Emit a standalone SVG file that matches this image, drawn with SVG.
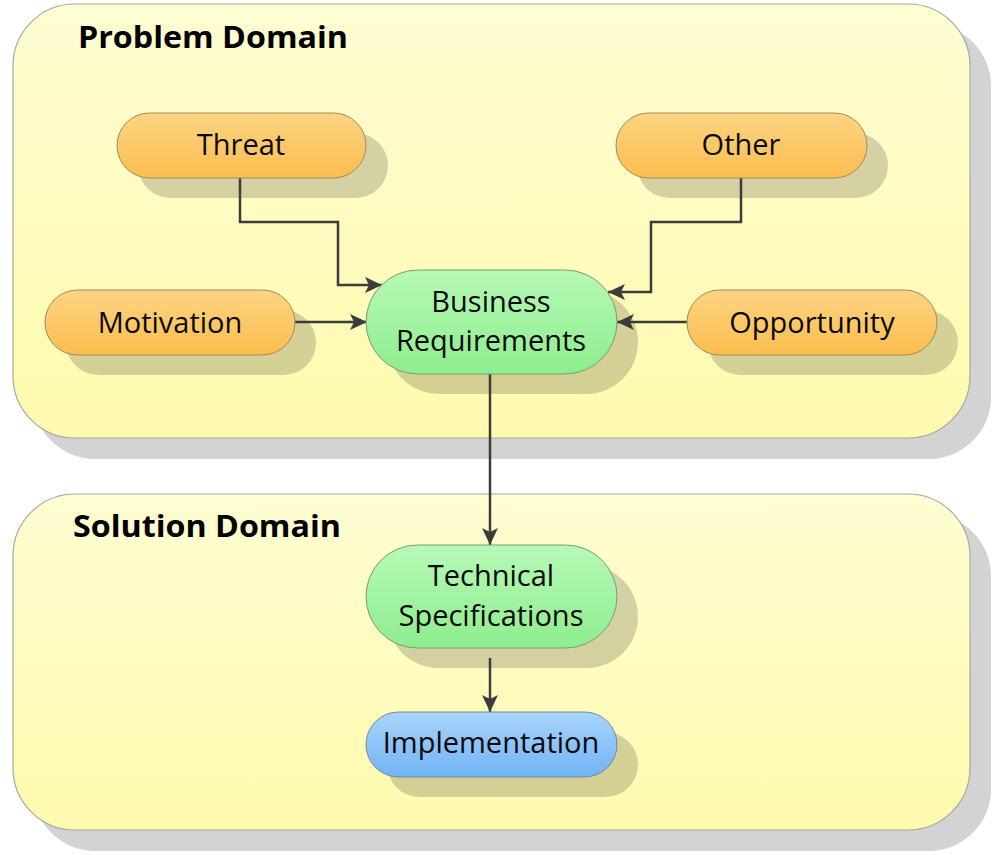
<svg xmlns="http://www.w3.org/2000/svg" width="1003" height="855" viewBox="0 0 1003 855">
<defs>
<linearGradient id="gCont" x1="0" y1="0" x2="0" y2="1"><stop offset="0" stop-color="#fffdd2"/><stop offset="1" stop-color="#fffaae"/></linearGradient>
<linearGradient id="gOr" x1="0" y1="0" x2="0" y2="1"><stop offset="0" stop-color="#fdd483"/><stop offset="1" stop-color="#fbbd4e"/></linearGradient>
<linearGradient id="gGr" x1="0" y1="0" x2="0" y2="1"><stop offset="0" stop-color="#b6f9b6"/><stop offset="1" stop-color="#8eed8e"/></linearGradient>
<linearGradient id="gBl" x1="0" y1="0" x2="0" y2="1"><stop offset="0" stop-color="#a9d4fb"/><stop offset="1" stop-color="#72b3f5"/></linearGradient>
<marker id="arr" markerUnits="userSpaceOnUse" markerWidth="18" markerHeight="16" refX="17" refY="8" orient="auto"><path d="M0,0 L17,8 L0,16 L4,8 Z" fill="#3c3c3c"/></marker>
</defs>
<style>
.cshadow{fill:#d3d3d3}
.cont{fill:url(#gCont);stroke:#a8a8a0;stroke-width:1.2}
.nshadow{fill:#000;fill-opacity:0.17}
.or{fill:url(#gOr);stroke:#a08a5a;stroke-width:1}
.gr{fill:url(#gGr);stroke:#7a9a7a;stroke-width:1}
.bl{fill:url(#gBl);stroke:#6a8aa8;stroke-width:1}
.title{font-family:"Open Sans","Liberation Sans",sans-serif;font-weight:bold;font-size:31px;fill:#000}
.lbl{font-family:"Open Sans","Liberation Sans",sans-serif;font-size:29px;fill:#0a0a0a;text-anchor:middle}
.conn{fill:none;stroke:#3c3c3c;stroke-width:2.5;marker-end:url(#arr)}
</style>
<rect width="1003" height="855" fill="#fff"/>
<g id="problem-domain">
<rect class="cshadow" x="33" y="24" width="958" height="435" rx="62"/>
<rect class="cont" x="13" y="4" width="957" height="434" rx="62"/>
<text class="title" x="78" y="48" textLength="270" lengthAdjust="spacingAndGlyphs">Problem Domain</text>
</g>
<g id="solution-domain">
<rect class="cshadow" x="33" y="514" width="958" height="337" rx="62"/>
<rect class="cont" x="13" y="494" width="957" height="336" rx="62"/>
<text class="title" x="73" y="537" textLength="268" lengthAdjust="spacingAndGlyphs">Solution Domain</text>
</g>
<g id="shadows">
<rect class="nshadow" x="138" y="133" width="250" height="65" rx="32.5"/>
<rect class="nshadow" x="637" y="133" width="251" height="65" rx="32.5"/>
<rect class="nshadow" x="66" y="310" width="250" height="65" rx="32.5"/>
<rect class="nshadow" x="708" y="310" width="250" height="65" rx="32.5"/>
<rect class="nshadow" x="387" y="290" width="251" height="104" rx="52"/>
<rect class="nshadow" x="387" y="565" width="251" height="103" rx="51.5"/>
<rect class="nshadow" x="387" y="732" width="251" height="65" rx="32.5"/>
</g>
<g id="connectors">
<path class="conn" d="M240,178 V222 H338 V285 H382"/>
<path class="conn" d="M741,178 V222 H651 V292 H608"/>
<path class="conn" d="M295,322 H367"/>
<path class="conn" d="M687,322 H617"/>
<path class="conn" d="M490,374 V545"/>
<path class="conn" d="M490,658 V712"/>
</g>
<g id="threat">
<rect class="or" x="117" y="113" width="249" height="65" rx="32.5"/>
<text class="lbl" x="241" y="155">Threat</text>
</g>
<g id="other">
<rect class="or" x="616" y="113" width="251" height="65" rx="32.5"/>
<text class="lbl" x="741" y="155">Other</text>
</g>
<g id="motivation">
<rect class="or" x="45" y="290" width="250" height="65" rx="32.5"/>
<text class="lbl" x="170" y="333">Motivation</text>
</g>
<g id="opportunity">
<rect class="or" x="687" y="290" width="250" height="65" rx="32.5"/>
<text class="lbl" x="812" y="333">Opportunity</text>
</g>
<g id="business-requirements">
<rect class="gr" x="366" y="270" width="251" height="104" rx="52"/>
<text class="lbl" x="491" y="312">Business</text>
<text class="lbl" x="491" y="351">Requirements</text>
</g>
<g id="technical-specifications">
<rect class="gr" x="366" y="545" width="251" height="103" rx="51.5"/>
<text class="lbl" x="491" y="586">Technical</text>
<text class="lbl" x="491" y="626">Specifications</text>
</g>
<g id="implementation">
<rect class="bl" x="366" y="712" width="251" height="65" rx="32.5"/>
<text class="lbl" x="491" y="753">Implementation</text>
</g>
</svg>
